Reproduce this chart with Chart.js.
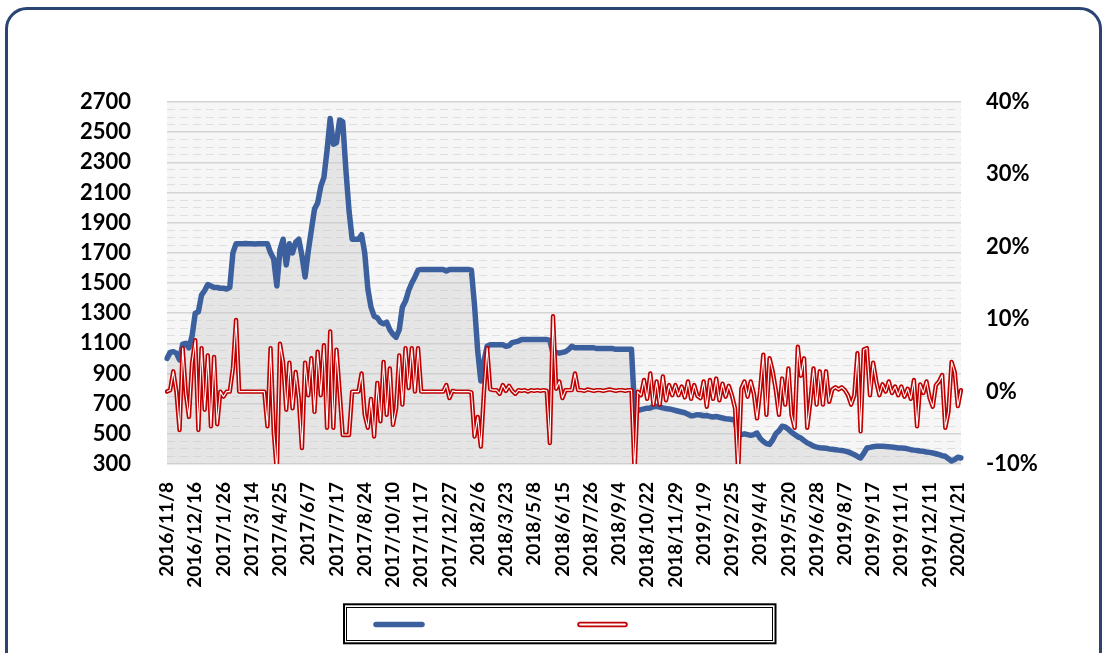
<!DOCTYPE html>
<html><head><meta charset="utf-8">
<script src="https://cdn.jsdelivr.net/npm/chart.js@4"></script>
<style>
html,body{margin:0;padding:0;background:#fff;width:1106px;height:653px;overflow:hidden}
#frame{position:absolute;left:5px;top:7px;width:1097px;height:720px;border:3px solid #2a4572;border-radius:22px;box-sizing:border-box}
#wrap{position:absolute;left:0;top:0;width:1106px;height:653px}
</style></head><body>
<div id="frame"></div>
<div id="wrap"><canvas id="c" width="1106" height="653"></canvas></div>
<script>
const tickLabels = ['2016/11/8','2016/12/16','2017/1/26','2017/3/14','2017/4/25','2017/6/7','2017/7/17','2017/8/24','2017/10/10','2017/11/17','2017/12/27','2018/2/6','2018/3/23','2018/5/8','2018/6/15','2018/7/26','2018/9/4','2018/10/22','2018/11/29','2019/1/9','2019/2/25','2019/4/4','2019/5/20','2019/6/28','2019/8/7','2019/9/17','2019/11/1','2019/12/11','2020/1/21'];
const TICK_EVERY = 9;

const blueValues = [
1000,1040,1045,1035,990,1095,1100,1070,1150,1300,
1310,1420,1450,1490,1480,1470,1470,1465,1465,1460,
1470,1700,1760,1760,1760,1762,1760,1760,1758,1760,
1760,1760,1760,1700,1660,1480,1720,1790,1620,1760,
1700,1770,1790,1680,1540,1710,1850,1990,2030,2140,
2200,2380,2590,2420,2430,2580,2570,2250,1980,1790,
1790,1790,1820,1700,1460,1340,1280,1270,1240,1230,
1240,1190,1160,1140,1190,1340,1380,1450,1500,1540,
1585,1590,1590,1590,1590,1590,1590,1590,1590,1580,
1590,1590,1590,1590,1590,1590,1590,1585,1350,1050,
850,980,1080,1090,1090,1090,1090,1090,1080,1085,
1105,1110,1115,1125,1125,1125,1125,1125,1125,1125,
1125,1125,1120,1030,1040,1035,1040,1045,1060,1080,
1070,1070,1070,1070,1070,1070,1070,1065,1065,1065,
1065,1065,1065,1060,1060,1060,1060,1060,1060,660,
655,660,665,670,672,680,682,678,672,668,
665,660,655,650,645,640,630,620,622,627,
625,620,622,615,612,615,610,605,600,598,
595,590,495,495,500,495,490,495,505,470,
450,435,430,460,500,520,550,545,530,510,
495,480,472,455,440,430,418,412,408,406,
404,400,398,395,392,390,385,380,372,362,
350,340,370,406,410,415,417,417,417,416,
415,412,410,406,406,405,400,395,392,390,
386,384,380,377,373,368,362,355,351,335,
320,330,345,340];

const redValues = [
0,0.2,2.8,0,-5.3,6,-0.3,-3.5,4,7.1,
-5.3,6,-2.5,5,-4.8,4.8,-4.5,0,-0.7,0,
0,3.2,9.9,0,0,0,0,0,0,0,
0,0,-4.8,6,-5.5,-11,6.6,4,-2.5,4,
-2.3,2.7,-1,-7.8,4,-0.5,4.6,-2.8,5.5,-0.5,
6.4,-5,8.3,-5,5.8,0,-6,-6,-6,0,
0,0,2.5,-3.2,-5,-1,-6.2,1.2,-4.1,4.1,
-3.2,3.2,-4.6,-2.3,5,-1.8,6,0.5,6,0,
6,0,0,0,0,0,0,0,0,0.9,
-0.9,0.1,0,0,0,0,0,-0.1,-6.2,-3.5,
-7.6,0,6,0.3,0.2,0.2,-0.3,0.9,0.1,0.8,
0.1,-0.3,0.2,0.1,0.2,0,0.2,0.1,0.2,0.1,
0.2,0.1,-7.1,10.4,0.4,1.4,-0.9,0.2,0.2,0.2,
2.5,0.2,0.2,0.1,0.3,0.2,0.1,0.2,0.2,0.1,
0.2,0.3,0.2,0.1,0.2,0.2,0.1,0.2,0.2,-11,
0,-0.5,1.6,-1,2.5,-1.8,1.4,-1.8,2.1,-1.2,
0.9,-0.5,0.9,-0.5,0.7,-0.8,1.4,-1,0.9,-0.6,
-0.9,1.4,-2.1,1.6,-1,1.8,-1.2,1.1,-0.7,0.8,
-0.5,-2.3,-11,0.4,1.4,-0.7,1.4,-0.3,-3.7,0.2,
5.1,-3.2,4.6,2.8,0.2,-3.2,1.8,-1.8,3.2,-3.2,
-5,6.2,2.2,4.6,-5,-1.4,3.2,-1.8,2.8,-1.8,
2.8,-1.4,0.3,0.6,0.3,0.6,0.2,-0.5,-1.8,-0.5,
5.3,-5.5,5.8,6,-0.5,4,1.4,-0.5,1,0,
1.4,-0.2,0.7,-0.5,0.7,-0.7,0.4,-1,1.6,-4.8,
1,-0.2,1.4,-0.9,-2.1,0.9,1.4,2.3,-5,-2.8,
4.1,2.7,-2,0.2];

const leftTicks = {min:300, max:2700, major:200, minor:50};
const rightTicks = {min:-10, max:40, step:10};

const labels = blueValues.map((_, i) => (i % TICK_EVERY === 0 && tickLabels[i / TICK_EVERY]) ? tickLabels[i / TICK_EVERY] : '');

const FONT = 'Lato, "Open Sans", sans-serif';
const BLUE = '#3c5f9e';
const RED = '#c00000';

const bgPlugin = {
  id: 'plotBg',
  beforeDraw(chart) {
    const {ctx, chartArea: a} = chart;
    ctx.save();
    ctx.fillStyle = '#f6f6f6';
    ctx.fillRect(a.left, a.top, a.right - a.left, a.bottom - a.top);
    ctx.restore();
  }
};

const legendPlugin = {
  id: 'boxLegend',
  afterDraw(chart) {
    const c = chart.ctx;
    c.save();
    c.strokeStyle = '#000';
    c.lineWidth = 2;
    c.strokeRect(344, 604.3, 431.5, 39);
    c.lineWidth = 1;
    c.strokeRect(346.5, 607.5, 426, 33);
    c.lineCap = 'round';
    const ds = chart.data.datasets;
    c.strokeStyle = ds[2].borderColor; c.lineWidth = 5.5;
    c.beginPath(); c.moveTo(376, 624.5); c.lineTo(422, 624.5); c.stroke();
    c.strokeStyle = ds[1].borderColor; c.lineWidth = 5.5;
    c.beginPath(); c.moveTo(580, 624.5); c.lineTo(625, 624.5); c.stroke();
    c.strokeStyle = ds[0].borderColor; c.lineWidth = 1.8;
    c.beginPath(); c.moveTo(580, 624.5); c.lineTo(625, 624.5); c.stroke();
    c.restore();
  }
};

const isMajor = v => (v - leftTicks.min) % leftTicks.major === 0;

new Chart(document.getElementById('c'), {
  type: 'line',
  data: {
    labels,
    datasets: [
      {data: redValues, yAxisID: 'y1', borderColor: '#ffffff', borderWidth: 1.1, pointRadius: 0, fill: false},
      {data: redValues, yAxisID: 'y1', borderColor: RED, borderWidth: 4.4, pointRadius: 0, fill: false},
      {data: blueValues, yAxisID: 'y', borderColor: BLUE, borderWidth: 5.5, pointRadius: 0,
       fill: 'start', backgroundColor: 'rgba(200,200,200,0.36)'}
    ]
  },
  options: {
    responsive: false,
    animation: false,
    layout: {padding: {top: 102, left: 0, right: 0, bottom: 0}},
    plugins: {legend: {display: false}, tooltip: {enabled: false}},
    elements: {line: {tension: 0, borderJoinStyle: 'round', borderCapStyle: 'round'}},
    scales: {
      x: {
        grid: {display: false, drawTicks: false},
        border: {display: false},
        ticks: {autoSkip: false, maxRotation: 90, minRotation: 90, padding: 18, color: '#000',
                font: {family: FONT, weight: 'bold', size: 19}},
        afterFit(s) { s.height = 189; }
      },
      y: {
        position: 'left',
        min: leftTicks.min, max: leftTicks.max,
        ticks: {stepSize: leftTicks.minor, autoSkip: false, padding: 36, color: '#000',
                font: {family: FONT, weight: 'bold', size: 22},
                callback: v => isMajor(v) ? String(v) : ''},
        grid: {drawTicks: false,
               color: c => isMajor(c.tick.value) ? '#d4d4d4' : '#dfdfdf',
               lineWidth: c => isMajor(c.tick.value) ? 1.4 : 1},
        border: {display: false, dash: c => (c.tick && isMajor(c.tick.value)) ? [] : [8, 5]},
        afterFit(s) { s.width = 167; }
      },
      y1: {
        position: 'right',
        min: rightTicks.min, max: rightTicks.max,
        ticks: {stepSize: rightTicks.step, padding: 25, color: '#000',
                font: {family: FONT, weight: 'bold', size: 22},
                callback: v => v + '%'},
        grid: {display: false, drawTicks: false},
        border: {display: false},
        afterFit(s) { s.width = 145; }
      }
    }
  },
  plugins: [bgPlugin, legendPlugin]
});
</script></body></html>
